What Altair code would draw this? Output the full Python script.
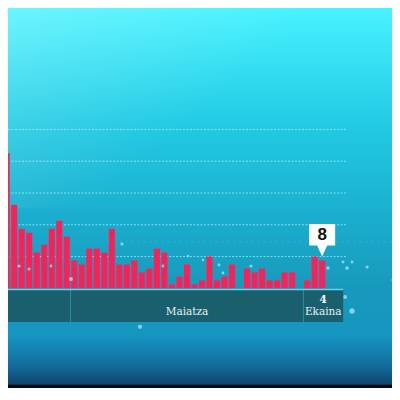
import altair as alt
import pandas as pd

# ---- data ----
values = [17, 34, 21, 15, 14, 9, 11, 15, 17, 13,
          7, 6, 10, 10, 9, 15, 6, 6, 7, 4,
          5, 10, 9, 1, 3, 6, 1, 2, 8, 2,
          3, 6, 0, 5, 4, 5, 2, 2, 4, 4,
          0, 2, 8, 7]
days = list(range(len(values)))
grid_values = [8, 16, 24, 32, 40]
month_names = ["", "Maiatza", "Ekaina"]
month_start = [-2.0, 9.5, 40.5]
month_end = [9.5, 40.5, 45.8]
callout_day = [43]
callout_value = [8]
callout_text = ["8"]
last_day_label = ["4"]

# decorative particles (day, value, size)
p_day = [46.98, 46.05, 18.75, 46.31, 48.98, 46.98, 45.78, 52.44, 43.78, 27.14,
         29.27, 33.53, 29.8, 16.35, 9.56, 2.64, 3.97, 6.90, 21.81, 25.14, 40.99, 18.62]
p_value = [-5.69, -2.16, -9.66, 5.13, 5.38, 6.64, 6.64, 2.11, 5.13, 7.14,
           5.89, 5.64, 3.87, 11.17, 2.36, 5.64, 4.88, 5.64, 5.64, 8.15, -1.91, -4.43]
p_size = [28, 16, 18, 14, 10, 8, 8, 10, 12, 6,
          8, 10, 8, 10, 16, 10, 10, 8, 8, 6, 6, 8]

W = 384
H = 380
X_DOMAIN = [1.173, 52.30]
Y_DOMAIN = [-25.06, 70.54]

xs = alt.Scale(domain=X_DOMAIN, nice=False, zero=False)
ys = alt.Scale(domain=Y_DOMAIN, nice=False, zero=False)

one = pd.DataFrame({"a": [0]})

bg = alt.Chart(one).mark_rect(
    fill=alt.Gradient(
        gradient="linear", x1=0, y1=0, x2=0, y2=1,
        stops=[
            alt.GradientStop(color="#48f2ff", offset=0),
            alt.GradientStop(color="#22c9e3", offset=0.316),
            alt.GradientStop(color="#1aadcd", offset=0.558),
            alt.GradientStop(color="#1899bb", offset=0.737),
            alt.GradientStop(color="#1596c0", offset=0.86),
            alt.GradientStop(color="#1270a0", offset=0.935),
            alt.GradientStop(color="#0f4670", offset=0.99),
            alt.GradientStop(color="#03080c", offset=0.993),
            alt.GradientStop(color="#03080c", offset=1),
        ],
    )
).encode(x=alt.value(0), x2=alt.value(W), y=alt.value(0), y2=alt.value(H))

glow = alt.Chart(one).mark_rect(
    fill=alt.Gradient(
        gradient="linear", x1=0, y1=0, x2=1, y2=0.6,
        stops=[
            alt.GradientStop(color="rgba(255,255,255,0.2)", offset=0),
            alt.GradientStop(color="rgba(255,255,255,0)", offset=0.6),
        ],
    )
).encode(x=alt.value(0), x2=alt.value(W), y=alt.value(0), y2=alt.value(200))

grid_df = pd.DataFrame({"v": grid_values})
grid = alt.Chart(grid_df).mark_rule(
    color="#a8f6ff", strokeWidth=1, strokeDash=[2, 1.5], opacity=0.7
).encode(y=alt.Y("v:Q", scale=ys, axis=None), x=alt.value(0), x2=alt.value(339))

haze = alt.Chart(pd.DataFrame({"v": [11.67], "s": [14.5], "e": [60]})).mark_rule(
    color="#bff8ff", strokeWidth=1, strokeDash=[1, 5], opacity=0.3, clip=True
).encode(y=alt.Y("v:Q", scale=ys, axis=None), x=alt.X("s:Q", scale=xs, axis=None), x2="e:Q")

bars_df = pd.DataFrame({"day": days, "value": values})
bars = alt.Chart(bars_df).transform_calculate(
    x0="datum.day - 0.4", x1="datum.day + 0.4", base="0"
).mark_bar(color="#ff1f57", clip=True).encode(
    x=alt.X("x0:Q", scale=xs, axis=None), x2="x1:Q",
    y=alt.Y("value:Q", scale=ys, axis=None), y2="base:Q",
)

part_df = pd.DataFrame({"day": p_day, "value": p_value, "size": p_size})
particles = alt.Chart(part_df).mark_circle(color="#9ee9ff", opacity=0.75, clip=True).encode(
    x=alt.X("day:Q", scale=xs, axis=None), y=alt.Y("value:Q", scale=ys, axis=None),
    size=alt.Size("size:Q", scale=None, legend=None),
)

months_df = pd.DataFrame({"name": month_names, "start": month_start, "end": month_end})
band = alt.Chart(months_df).mark_rect(color="#1a5f6d", clip=True).encode(
    x=alt.X("start:Q", scale=xs, axis=None), x2="end:Q",
    y=alt.value(282), y2=alt.value(314),
)
dividers = alt.Chart(months_df).transform_filter("datum.name != ''").mark_rule(
    color="#2f8c9c", strokeWidth=1
).encode(x=alt.X("start:Q", scale=xs, axis=None), y=alt.value(282), y2=alt.value(314))

topline = alt.Chart(months_df).transform_aggregate(
    s="min(start)", e="max(end)"
).mark_rule(color="#5fd6ee", strokeWidth=1.5, clip=True).encode(
    x=alt.X("s:Q", scale=xs, axis=None), x2="e:Q", y=alt.value(281.5)
)

month_labels = alt.Chart(months_df).transform_filter("datum.name != ''").transform_calculate(
    mid="(datum.start + datum.end) / 2"
).mark_text(font="DejaVu Serif", fontSize=10.5, color="#e6f2f2", baseline="middle").encode(
    x=alt.X("mid:Q", scale=xs, axis=None), y=alt.value(304), text="name:N"
)

day_df = pd.DataFrame({"label": last_day_label, "start": [month_start[2]], "end": [month_end[2]]})
day_label = alt.Chart(day_df).transform_calculate(
    mid="(datum.start + datum.end) / 2"
).mark_text(font="DejaVu Serif", fontSize=10.5, fontWeight="bold", color="#f2f8f8", baseline="middle").encode(
    x=alt.X("mid:Q", scale=xs, axis=None), y=alt.value(292), text="label:N"
)

call_df = pd.DataFrame({"day": callout_day, "value": callout_value, "text": callout_text})
callout_shape = ("M -0.394 -0.988 L 0.394 -0.988 L 0.394 -0.333 L 0.152 -0.333 "
                 "L 0 0 L -0.152 -0.333 L -0.394 -0.333 Z")
callout = alt.Chart(call_df).mark_point(
    shape=callout_shape, filled=True, fill="#ffffff", size=4356, opacity=1, strokeWidth=0
).encode(x=alt.X("day:Q", scale=xs, axis=None), y=alt.Y("value:Q", scale=ys, axis=None))
callout_txt = alt.Chart(call_df).mark_text(
    font="Liberation Sans", fontSize=17, fontWeight="bold", color="#111111",
    baseline="middle", dy=-21.5
).encode(x=alt.X("day:Q", scale=xs, axis=None), y=alt.Y("value:Q", scale=ys, axis=None), text="text:N")

chart = alt.layer(
    bg, glow, grid, haze, bars, particles, band, dividers, topline, month_labels, day_label,
    callout, callout_txt
).properties(
    width=W, height=H, padding=0, autosize=alt.AutoSizeParams(type="none")
).configure_view(stroke=None).resolve_scale(x="shared", y="shared")

chart.save("out.html", embed_options={"renderer": "svg", "actions": False})
